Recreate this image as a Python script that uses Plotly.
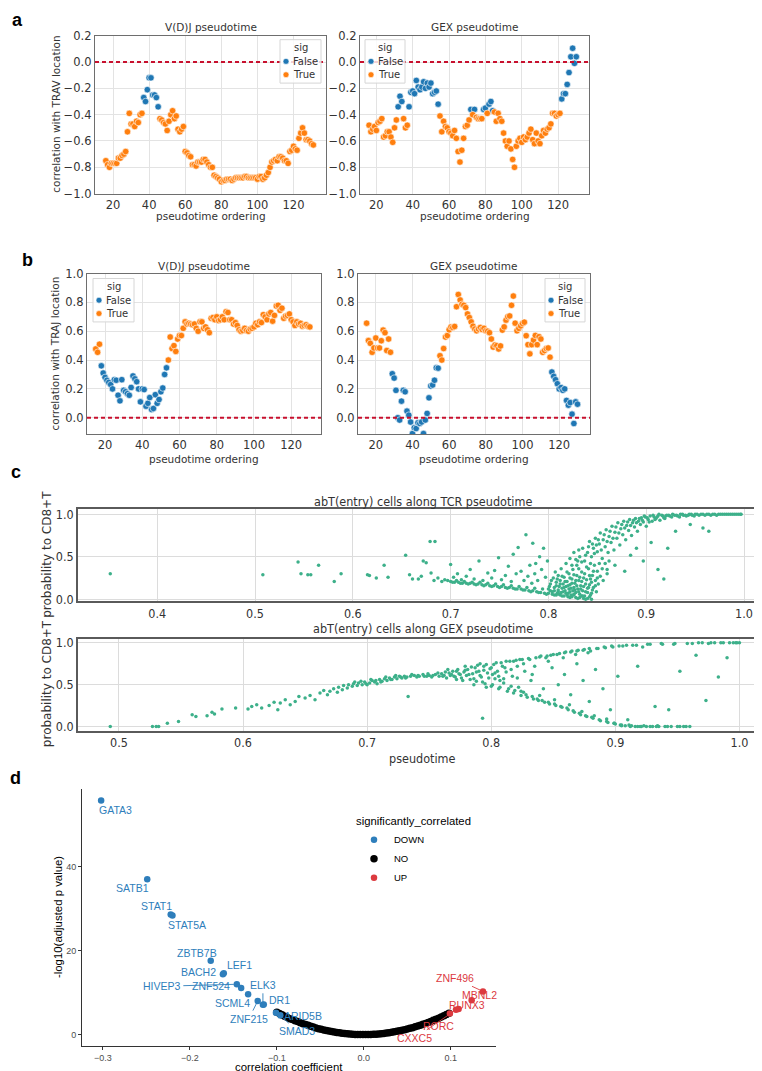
import plotly.graph_objects as go

W, H = 762, 1071

# ---------------- panel a : correlation with TRAV location ----------------
a_vdj_order = list(range(16, 132))
a_vdj_corr = [-0.75, -0.78, -0.80, -0.77, -0.77, -0.77, -0.77, -0.73, -0.73, -0.71,
              -0.70, -0.68, -0.53, -0.39, -0.47, -0.47, -0.49, -0.45, -0.46, -0.40,
              -0.39, -0.27, -0.30, -0.21, -0.12, -0.12, -0.25, -0.25, -0.27, -0.34,
              -0.43, -0.44, -0.46, -0.47, -0.52, -0.45, -0.40, -0.37, -0.43, -0.41,
              -0.51, -0.53, -0.51, -0.49, -0.68, -0.69, -0.71, -0.72, -0.78, -0.78,
              -0.79, -0.76, -0.76, -0.76, -0.74, -0.74, -0.76, -0.78, -0.80, -0.80,
              -0.86, -0.87, -0.88, -0.89, -0.91, -0.90, -0.90, -0.89, -0.89, -0.89,
              -0.90, -0.89, -0.88, -0.88, -0.88, -0.88, -0.88, -0.87, -0.87, -0.88,
              -0.88, -0.88, -0.88, -0.88, -0.89, -0.87, -0.87, -0.89, -0.88, -0.86,
              -0.84, -0.80, -0.76, -0.75, -0.74, -0.75, -0.72, -0.72, -0.73, -0.75,
              -0.75, -0.77, -0.68, -0.67, -0.64, -0.66, -0.67, -0.58, -0.54, -0.50,
              -0.54, -0.59, -0.59, -0.60, -0.62, -0.63]
a_vdj_nonsig = [37, 38, 39, 40, 41, 42, 43, 44, 45]

a_gex_order = list(range(16, 131))
a_gex_corr = [-0.48, -0.53, -0.51, -0.49, -0.52, -0.46, -0.45, -0.43, -0.57, -0.56,
              -0.53, -0.53, -0.57, -0.61, -0.50, -0.44, -0.34, -0.26, -0.30, -0.43,
              -0.50, -0.48, -0.34, -0.23, -0.22, -0.24, -0.14, -0.19, -0.21, -0.19,
              -0.15, -0.20, -0.16, -0.19, -0.16, -0.24, -0.23, -0.22, -0.32, -0.41,
              -0.53, -0.45, -0.49, -0.50, -0.53, -0.54, -0.56, -0.52, -0.58, -0.68,
              -0.76, -0.67, -0.58, -0.49, -0.48, -0.44, -0.36, -0.40, -0.36, -0.42,
              -0.43, -0.43, -0.43, -0.36, -0.35, -0.39, -0.32, -0.30, -0.37, -0.38,
              -0.45, -0.39, -0.43, -0.45, -0.54, -0.60, -0.64, -0.60, -0.66, -0.74,
              -0.80, -0.64, -0.60, -0.58, -0.61, -0.57, -0.59, -0.57, -0.54, -0.51,
              -0.59, -0.62, -0.54, -0.60, -0.62, -0.56, -0.52, -0.54, -0.51, -0.50,
              -0.47, -0.39, -0.39, -0.41, -0.40, -0.39, -0.28, -0.24, -0.24, -0.17,
              -0.08, 0.04, 0.105, -0.01, 0.04]
a_gex_nonsig = [32, 33, 34, 38, 39, 40, 41, 42, 43, 44, 45, 46, 47, 48, 49, 50, 51, 52, 53, 54,
                72, 74, 79, 80, 82, 83, 84, 122, 123, 124, 125, 126, 127, 128, 129, 130]

# ---------------- panel b : correlation with TRAJ location ----------------
b_vdj_order = list(range(15, 131))
b_vdj_corr = [0.477, 0.454, 0.51, 0.36, 0.31, 0.28, 0.26, 0.245, 0.23, 0.20,
              0.264, 0.26, 0.156, 0.117, 0.264, 0.19, 0.18, 0.167, 0.156, 0.21,
              0.29, 0.27, 0.25, 0.20, 0.11, 0.20, 0.195, 0.08, 0.10, 0.14,
              0.057, 0.064, 0.16, 0.10, 0.126, 0.18, 0.206, 0.30, 0.346, 0.40,
              0.56, 0.48, 0.50, 0.46, 0.546, 0.57, 0.57, 0.62, 0.665, 0.65,
              0.655, 0.65, 0.645, 0.65, 0.62, 0.60, 0.665, 0.665, 0.62, 0.63,
              0.61, 0.59, 0.69, 0.695, 0.68, 0.70, 0.675, 0.68, 0.70, 0.68,
              0.735, 0.73, 0.68, 0.68, 0.65, 0.66, 0.64, 0.61, 0.60, 0.605,
              0.62, 0.605, 0.60, 0.615, 0.62, 0.63, 0.655, 0.645, 0.665, 0.66,
              0.715, 0.70, 0.68, 0.72, 0.73, 0.67, 0.71, 0.775, 0.78, 0.745,
              0.76, 0.69, 0.705, 0.71, 0.72, 0.68, 0.665, 0.64, 0.665, 0.65,
              0.655, 0.635, 0.64, 0.645, 0.635, 0.63]
b_vdj_nonsig = list(range(18, 54))

b_gex_order = list(range(15, 131))
b_gex_corr = [0.656, 0.535, 0.516, 0.454, 0.484, 0.553, 0.484, 0.484, 0.534, 0.608,
              0.59, 0.466, 0.546, 0.454, 0.305, 0.275, 0.19, 0.0, -0.016, 0.115,
              0.19, 0.18, 0.046, 0.018, -0.03, -0.11, -0.07, -0.075, -0.035, -0.04,
              -0.03, -0.11, -0.016, 0.03, 0.138, 0.22, 0.227, 0.26, 0.346, 0.344,
              0.43, 0.40, 0.48, 0.56, 0.57, 0.61, 0.63, 0.626, 0.633, 0.77,
              0.855, 0.817, 0.787, 0.78, 0.764, 0.72, 0.695, 0.665, 0.635, 0.615,
              0.603, 0.615, 0.626, 0.612, 0.62, 0.603, 0.60, 0.59, 0.546, 0.49,
              0.505, 0.50, 0.477, 0.498, 0.608, 0.63, 0.677, 0.70, 0.706, 0.78,
              0.844, 0.656, 0.603, 0.62, 0.637, 0.654, 0.663, 0.569, 0.507, 0.443,
              0.507, 0.539, 0.571, 0.507, 0.562, 0.546, 0.454, 0.466, 0.48, 0.484,
              0.42, 0.317, 0.287, 0.264, 0.236, 0.20, 0.209, 0.19, 0.20, 0.12,
              0.087, 0.105, 0.025, -0.04, 0.11, 0.094]
b_gex_nonsig = list(range(29, 55)) + list(range(116, 131))

sig_labels = ["False", "True"]

# ---------------- panel c : probability to CD8+T along pseudotime ----------------
tcr_cells = [
    (0.352, 0.30), (0.508, 0.29), (0.544, 0.44), (0.547, 0.30), (0.554, 0.29), (0.557, 0.29),
    (0.565, 0.40), (0.581, 0.21), (0.588, 0.30), (0.615, 0.29), (0.617, 0.28), (0.624, 0.25),
    (0.632, 0.40), (0.636, 0.26), (0.654, 0.52), (0.658, 0.29), (0.661, 0.24), (0.667, 0.24),
    (0.670, 0.27), (0.672, 0.45), (0.675, 0.43), (0.679, 0.68), (0.684, 0.68), (0.680, 0.31),
    (0.683, 0.22), (0.687, 0.25), (0.691, 0.21), (0.694, 0.23), (0.697, 0.22), (0.700, 0.41),
    (0.703, 0.26), (0.707, 0.30), (0.711, 0.23), (0.716, 0.27), (0.720, 0.35), (0.724, 0.24),
    (0.729, 0.45), (0.733, 0.22), (0.738, 0.31), (0.742, 0.25), (0.745, 0.34), (0.749, 0.49),
    (0.752, 0.23), (0.756, 0.28), (0.759, 0.39), (0.762, 0.21), (0.764, 0.53), (0.767, 0.30),
    (0.769, 0.61), (0.772, 0.33), (0.775, 0.22), (0.777, 0.76), (0.779, 0.27), (0.781, 0.40),
    (0.783, 0.19), (0.784, 0.66), (0.786, 0.30), (0.787, 0.42), (0.789, 0.22), (0.791, 0.50),
    (0.793, 0.35), (0.795, 0.60), (0.797, 0.26), (0.799, 0.45),
    (0.700, 0.21), (0.704, 0.20), (0.708, 0.20), (0.712, 0.19), (0.716, 0.19), (0.720, 0.19),
    (0.724, 0.18), (0.728, 0.18), (0.732, 0.17), (0.736, 0.17), (0.740, 0.16), (0.744, 0.16),
    (0.748, 0.15), (0.752, 0.15), (0.756, 0.14), (0.760, 0.14), (0.764, 0.13), (0.768, 0.12),
    (0.772, 0.12), (0.776, 0.11), (0.780, 0.10), (0.784, 0.10), (0.788, 0.09), (0.792, 0.08),
    (0.796, 0.07), (0.800, 0.07), (0.804, 0.06), (0.808, 0.05), (0.812, 0.05), (0.816, 0.04),
    (0.820, 0.03), (0.824, 0.03), (0.828, 0.02), (0.832, 0.02), (0.836, 0.01), (0.840, 0.01),
    (0.844, 0.00),
    (0.706, 0.22), (0.714, 0.21), (0.722, 0.20), (0.730, 0.20), (0.738, 0.19), (0.746, 0.18),
    (0.754, 0.17), (0.762, 0.16), (0.770, 0.15), (0.778, 0.14), (0.786, 0.13), (0.794, 0.12),
    (0.802, 0.10), (0.810, 0.09), (0.818, 0.07), (0.826, 0.06), (0.834, 0.04), (0.842, 0.03),
    (0.702, 0.20), (0.710, 0.19), (0.718, 0.18), (0.726, 0.17), (0.734, 0.16), (0.742, 0.15),
    (0.750, 0.14), (0.758, 0.13), (0.766, 0.12), (0.774, 0.11), (0.782, 0.09), (0.790, 0.08),
    (0.798, 0.06), (0.806, 0.05), (0.814, 0.04), (0.822, 0.02), (0.830, 0.01), (0.838, 0.00),
    (0.800, 0.12), (0.802, 0.18), (0.804, 0.09), (0.805, 0.25), (0.806, 0.14), (0.807, 0.32),
    (0.808, 0.20), (0.809, 0.07), (0.810, 0.11), (0.810, 0.28), (0.811, 0.15), (0.812, 0.22),
    (0.813, 0.08), (0.813, 0.36), (0.814, 0.13), (0.815, 0.18), (0.816, 0.26), (0.817, 0.10),
    (0.818, 0.15), (0.818, 0.42), (0.819, 0.21), (0.820, 0.07), (0.821, 0.12), (0.821, 0.30),
    (0.822, 0.17), (0.823, 0.05), (0.824, 0.24), (0.825, 0.10), (0.825, 0.35), (0.826, 0.14),
    (0.827, 0.19), (0.828, 0.08), (0.829, 0.28), (0.830, 0.12), (0.830, 0.45), (0.831, 0.22),
    (0.832, 0.06), (0.833, 0.16), (0.834, 0.32), (0.835, 0.10), (0.836, 0.25), (0.837, 0.04),
    (0.838, 0.18), (0.839, 0.38), (0.840, 0.08), (0.841, 0.14), (0.842, 0.28), (0.843, 0.05),
    (0.844, 0.20), (0.845, 0.11), (0.846, 0.33), (0.848, 0.16), (0.850, 0.25), (0.852, 0.42),
    (0.801, 0.15), (0.803, 0.22), (0.806, 0.10), (0.808, 0.16), (0.809, 0.24), (0.811, 0.06),
    (0.812, 0.18), (0.814, 0.27), (0.815, 0.09), (0.816, 0.14), (0.817, 0.21), (0.819, 0.05),
    (0.819, 0.32), (0.820, 0.16), (0.822, 0.09), (0.822, 0.25), (0.823, 0.13), (0.824, 0.19),
    (0.826, 0.05), (0.826, 0.29), (0.827, 0.11), (0.828, 0.22), (0.829, 0.16), (0.831, 0.09),
    (0.831, 0.36), (0.832, 0.26), (0.833, 0.12), (0.834, 0.21), (0.835, 0.04), (0.836, 0.15),
    (0.837, 0.30), (0.838, 0.09), (0.839, 0.23), (0.840, 0.13), (0.841, 0.36), (0.842, 0.17),
    (0.843, 0.24), (0.844, 0.07), (0.845, 0.28), (0.846, 0.14), (0.847, 0.40), (0.848, 0.22),
    (0.849, 0.09), (0.850, 0.33), (0.851, 0.18), (0.853, 0.27), (0.855, 0.36), (0.856, 0.22),
    (0.858, 0.42), (0.860, 0.35), (0.862, 0.45),
    (0.822, 0.48), (0.826, 0.55), (0.829, 0.40), (0.832, 0.50), (0.835, 0.60), (0.837, 0.45),
    (0.840, 0.55), (0.842, 0.68), (0.844, 0.50), (0.846, 0.60), (0.848, 0.72), (0.850, 0.56),
    (0.852, 0.65), (0.853, 0.78), (0.855, 0.48), (0.856, 0.70), (0.858, 0.62), (0.859, 0.82),
    (0.861, 0.55), (0.862, 0.74), (0.864, 0.67), (0.865, 0.86), (0.867, 0.58), (0.868, 0.79),
    (0.870, 0.72), (0.871, 0.90), (0.873, 0.64), (0.874, 0.83), (0.876, 0.76), (0.877, 0.92),
    (0.879, 0.70), (0.880, 0.87), (0.882, 0.81), (0.883, 0.94), (0.885, 0.75), (0.886, 0.90),
    (0.888, 0.85), (0.889, 0.95), (0.891, 0.80), (0.892, 0.92), (0.894, 0.88), (0.895, 0.96),
    (0.897, 0.91), (0.899, 0.97), (0.900, 0.86), (0.902, 0.94), (0.904, 0.98), (0.906, 0.92),
    (0.908, 0.97), (0.910, 0.95), (0.912, 0.98), (0.914, 0.93), (0.916, 0.99), (0.918, 0.96),
    (0.920, 0.98), (0.923, 0.99), (0.926, 0.97), (0.929, 0.99), (0.932, 0.98), (0.935, 1.00),
    (0.938, 0.99), (0.941, 0.98), (0.944, 1.00), (0.947, 0.99), (0.950, 1.00), (0.954, 0.99),
    (0.958, 1.00), (0.962, 1.00), (0.966, 0.99), (0.970, 1.00), (0.974, 1.00), (0.978, 1.00),
    (0.982, 1.00), (0.986, 1.00), (0.990, 1.00), (0.994, 1.00), (0.997, 1.00),
    (0.824, 0.40), (0.828, 0.47), (0.831, 0.58), (0.834, 0.44), (0.838, 0.52), (0.841, 0.62),
    (0.843, 0.42), (0.845, 0.65), (0.847, 0.54), (0.849, 0.64), (0.851, 0.70), (0.854, 0.58),
    (0.857, 0.76), (0.860, 0.68), (0.863, 0.80), (0.866, 0.72), (0.869, 0.85), (0.872, 0.78),
    (0.875, 0.88), (0.878, 0.84), (0.881, 0.91), (0.884, 0.87), (0.887, 0.93), (0.890, 0.90),
    (0.893, 0.95), (0.896, 0.93), (0.898, 0.98), (0.901, 0.96), (0.903, 0.91), (0.907, 0.99),
    (0.909, 0.94), (0.911, 0.97), (0.913, 1.00), (0.917, 0.98), (0.919, 0.95), (0.921, 0.99),
    (0.924, 0.98), (0.927, 1.00), (0.931, 0.99), (0.934, 0.97), (0.937, 1.00), (0.940, 0.99),
    (0.943, 0.99), (0.946, 1.00), (0.949, 0.98), (0.952, 1.00), (0.956, 1.00), (0.960, 0.99),
    (0.964, 1.00), (0.968, 1.00), (0.972, 0.99), (0.976, 1.00), (0.980, 1.00), (0.984, 1.00),
    (0.988, 1.00), (0.992, 1.00), (0.996, 1.00),
    (0.860, 0.30), (0.868, 0.40), (0.878, 0.33), (0.884, 0.52), (0.890, 0.60), (0.897, 0.45),
    (0.905, 0.67), (0.912, 0.35), (0.918, 0.24), (0.922, 0.60), (0.930, 0.80), (0.945, 0.88),
    (0.958, 0.84), (0.964, 0.80),
]
tcr_pseudotime = [c[0] for c in tcr_cells]
tcr_prob_cd8 = [c[1] for c in tcr_cells]

gex_cells = [
    (0.493, 0.00), (0.527, 0.00), (0.530, 0.00), (0.532, 0.00), (0.539, 0.04), (0.548, 0.06),
    (0.559, 0.14), (0.562, 0.12), (0.571, 0.13), (0.575, 0.17), (0.577, 0.15), (0.583, 0.21),
    (0.594, 0.22), (0.604, 0.21), (0.607, 0.24), (0.611, 0.26), (0.615, 0.22), (0.621, 0.25),
    (0.625, 0.29), (0.628, 0.20), (0.630, 0.28), (0.634, 0.32), (0.638, 0.26), (0.642, 0.30),
    (0.645, 0.36), (0.650, 0.34), (0.654, 0.37), (0.658, 0.32), (0.662, 0.40), (0.665, 0.43),
    (0.668, 0.38), (0.670, 0.42), (0.673, 0.45), (0.676, 0.41), (0.677, 0.47), (0.680, 0.44),
    (0.681, 0.49), (0.684, 0.46), (0.685, 0.50), (0.688, 0.48), (0.689, 0.51), (0.692, 0.49),
    (0.693, 0.52), (0.696, 0.50), (0.698, 0.53), (0.700, 0.50), (0.702, 0.52), (0.704, 0.55),
    (0.706, 0.53), (0.708, 0.51), (0.710, 0.56), (0.712, 0.54), (0.714, 0.57), (0.716, 0.55),
    (0.718, 0.58), (0.720, 0.56), (0.722, 0.59), (0.724, 0.57), (0.726, 0.60), (0.728, 0.58),
    (0.730, 0.60), (0.732, 0.59), (0.733, 0.36), (0.735, 0.60), (0.738, 0.61), (0.740, 0.59),
    (0.742, 0.60), (0.745, 0.62), (0.748, 0.60), (0.750, 0.61), (0.752, 0.59), (0.755, 0.62),
    (0.758, 0.60), (0.760, 0.63), (0.762, 0.61), (0.764, 0.58), (0.766, 0.64), (0.768, 0.62),
    (0.770, 0.60), (0.772, 0.66), (0.774, 0.63), (0.776, 0.58), (0.778, 0.65), (0.780, 0.61),
    (0.781, 0.68), (0.783, 0.56), (0.785, 0.63), (0.787, 0.70), (0.788, 0.54), (0.790, 0.66),
    (0.792, 0.59), (0.793, 0.10), (0.794, 0.72), (0.795, 0.51), (0.797, 0.64), (0.799, 0.69),
    (0.800, 0.48), (0.802, 0.74), (0.803, 0.57), (0.805, 0.66), (0.806, 0.45), (0.808, 0.76),
    (0.810, 0.52), (0.811, 0.70), (0.813, 0.42), (0.815, 0.78), (0.817, 0.60), (0.818, 0.40),
    (0.820, 0.79), (0.822, 0.47), (0.824, 0.37), (0.825, 0.80), (0.827, 0.66), (0.829, 0.35),
    (0.830, 0.81), (0.832, 0.55), (0.834, 0.33), (0.836, 0.82), (0.838, 0.31), (0.840, 0.84),
    (0.842, 0.45), (0.843, 0.29), (0.845, 0.84), (0.847, 0.27), (0.849, 0.70), (0.850, 0.86),
    (0.852, 0.25), (0.854, 0.50), (0.855, 0.87), (0.857, 0.23), (0.859, 0.62), (0.860, 0.89),
    (0.862, 0.20), (0.864, 0.38), (0.865, 0.90), (0.867, 0.17), (0.869, 0.75), (0.870, 0.91),
    (0.872, 0.14), (0.874, 0.55), (0.875, 0.92), (0.877, 0.12), (0.879, 0.30), (0.880, 0.90),
    (0.882, 0.10), (0.884, 0.68), (0.886, 0.93), (0.888, 0.07), (0.890, 0.45), (0.892, 0.94),
    (0.894, 0.05), (0.896, 0.20), (0.898, 0.95), (0.900, 0.03), (0.902, 0.60), (0.904, 0.02),
    (0.906, 0.96), (0.908, 0.01), (0.910, 0.08), (0.912, 0.00), (0.914, 0.97), (0.916, 0.00),
    (0.918, 0.72), (0.920, 0.00), (0.922, 0.95), (0.925, 0.00), (0.928, 0.98), (0.930, 0.00),
    (0.932, 0.24), (0.935, 0.00), (0.938, 0.98), (0.940, 0.00), (0.943, 0.20), (0.945, 0.00),
    (0.948, 0.99), (0.950, 0.00), (0.952, 0.66), (0.955, 0.00), (0.958, 0.99), (0.960, 0.00),
    (0.965, 0.85), (0.970, 1.00), (0.973, 0.31), (0.975, 0.99), (0.980, 1.00), (0.983, 0.59),
    (0.985, 1.00), (0.990, 0.82), (0.992, 1.00), (0.995, 1.00), (0.998, 1.00), (1.000, 1.00),
    (0.765, 0.68), (0.772, 0.56), (0.779, 0.72), (0.786, 0.50), (0.791, 0.75), (0.796, 0.47),
    (0.801, 0.62), (0.807, 0.55), (0.812, 0.65), (0.816, 0.48), (0.821, 0.72), (0.826, 0.41),
    (0.833, 0.62), (0.839, 0.37), (0.846, 0.78), (0.851, 0.32), (0.858, 0.82), (0.863, 0.26),
    (0.868, 0.86), (0.873, 0.18), (0.878, 0.88), (0.883, 0.13), (0.893, 0.09), (0.899, 0.04),
    (0.905, 0.01), (0.911, 0.02), (0.918, 0.00), (0.923, 0.01), (0.928, 0.00), (0.934, 0.01),
    (0.690, 0.53), (0.695, 0.54), (0.699, 0.51), (0.703, 0.56), (0.707, 0.55), (0.711, 0.53),
    (0.715, 0.59), (0.719, 0.56), (0.723, 0.61), (0.727, 0.59), (0.731, 0.58), (0.736, 0.62),
    (0.741, 0.61), (0.746, 0.60), (0.749, 0.63), (0.753, 0.61), (0.757, 0.64), (0.761, 0.60),
    (0.763, 0.65), (0.767, 0.61), (0.769, 0.66), (0.771, 0.59), (0.773, 0.68), (0.775, 0.62),
    (0.777, 0.55), (0.779, 0.67), (0.782, 0.62), (0.784, 0.71), (0.786, 0.57), (0.788, 0.65),
    (0.789, 0.73), (0.791, 0.61), (0.793, 0.53), (0.794, 0.67), (0.796, 0.74), (0.798, 0.58),
    (0.800, 0.70), (0.801, 0.50), (0.803, 0.64), (0.804, 0.76), (0.806, 0.60), (0.807, 0.47),
    (0.809, 0.72), (0.810, 0.57), (0.812, 0.78), (0.814, 0.45), (0.816, 0.68), (0.818, 0.78),
    (0.819, 0.43), (0.821, 0.58), (0.823, 0.80), (0.824, 0.42), (0.826, 0.75), (0.828, 0.38),
    (0.831, 0.80), (0.833, 0.36), (0.835, 0.72), (0.837, 0.33), (0.839, 0.83), (0.841, 0.31),
    (0.844, 0.82), (0.846, 0.29), (0.848, 0.85), (0.851, 0.27), (0.853, 0.86), (0.856, 0.24),
    (0.859, 0.88), (0.861, 0.22), (0.864, 0.89), (0.866, 0.19), (0.869, 0.90), (0.871, 0.16),
    (0.874, 0.91), (0.876, 0.13), (0.879, 0.93), (0.881, 0.11), (0.885, 0.93), (0.887, 0.08),
    (0.891, 0.95), (0.893, 0.06), (0.897, 0.96), (0.899, 0.04), (0.903, 0.96), (0.905, 0.02),
    (0.909, 0.97), (0.913, 0.01), (0.917, 0.97), (0.921, 0.00), (0.926, 0.98), (0.933, 0.00),
    (0.937, 0.99), (0.942, 0.00), (0.947, 0.98), (0.952, 0.00), (0.957, 0.00), (0.962, 0.99),
    (0.967, 1.00), (0.977, 1.00), (0.987, 1.00), (0.997, 1.00),
]
gex_pseudotime = [c[0] for c in gex_cells]
gex_prob_cd8 = [c[1] for c in gex_cells]

# ---------------- panel d : TF correlation volcano ----------------
down_genes = ["GATA3", "SATB1", "STAT1", "STAT5A", "ZBTB7B", "LEF1", "BACH2", "HIVEP3",
              "ZNF524", "ELK3", "SCML4", "DR1", "ZNF215", "ARID5B", "SMAD3"]
down_corr = [-0.302, -0.249, -0.222, -0.220, -0.176, -0.161, -0.162, -0.146,
             -0.141, -0.116, -0.133, -0.115, -0.122, -0.101, -0.096]
down_logp = [55.8, 37.0, 28.6, 28.4, 17.6, 14.6, 14.4, 12.0,
             11.1, 7.1, 9.6, 7.2, 8.0, 5.2, 4.6]

up_genes = ["ZNF496", "MBNL2", "RUNX3", "CXXC5", "RORC"]
up_corr = [0.137, 0.124, 0.109, 0.106, 0.099]
up_logp = [10.3, 8.2, 6.1, 5.9, 5.0]

no_corr = [-0.100, -0.097, -0.094, -0.091, -0.088, -0.085, -0.082, -0.079, -0.076, -0.073,
           -0.070, -0.067, -0.064, -0.061, -0.058, -0.055, -0.052, -0.049, -0.046, -0.043,
           -0.040, -0.037, -0.034, -0.031, -0.028, -0.025, -0.022, -0.019, -0.016, -0.013,
           -0.010, -0.007, -0.004, -0.001, 0.002, 0.005, 0.008, 0.011, 0.014, 0.017,
           0.020, 0.023, 0.026, 0.029, 0.032, 0.035, 0.038, 0.041, 0.044, 0.047,
           0.050, 0.053, 0.056, 0.059, 0.062, 0.065, 0.068, 0.071, 0.074, 0.077,
           0.080, 0.083, 0.086, 0.089, 0.092, 0.095, 0.098]
no_logp = [5.3, 5.0, 4.7, 4.4, 4.1, 3.8, 3.6, 3.3, 3.1, 2.8,
           2.6, 2.4, 2.2, 2.0, 1.8, 1.6, 1.4, 1.3, 1.1, 1.0,
           0.85, 0.73, 0.61, 0.51, 0.42, 0.33, 0.26, 0.19, 0.14, 0.09,
           0.05, 0.03, 0.01, 0.0, 0.0, 0.01, 0.03, 0.06, 0.10, 0.15,
           0.21, 0.28, 0.36, 0.45, 0.54, 0.65, 0.77, 0.89, 1.03, 1.17,
           1.33, 1.49, 1.66, 1.84, 2.04, 2.24, 2.45, 2.67, 2.90, 3.14,
           3.39, 3.65, 3.92, 4.20, 4.49, 4.78, 5.09]

# label placement (pixels: dx right, dy down); True draws a connector segment
label_place = {
    "GATA3": (14, 9, False), "SATB1": (-15, 9, False), "STAT1": (-14, -9, False),
    "STAT5A": (15, 10, False), "ZBTB7B": (-14, -8, False), "LEF1": (16, -8, False),
    "BACH2": (-24, -2, False), "HIVEP3": (-75, 2, True), "ZNF524": (-30, -2, False),
    "ELK3": (0, -20, True), "SCML4": (-16, 9, False), "DR1": (16, -4, False),
    "ZNF215": (-9, 18, True), "ARID5B": (27, 3, False), "SMAD3": (17, 16, True),
    "ZNF496": (-28, -13, True), "MBNL2": (8, -5, False), "RUNX3": (8, -4, False),
    "CXXC5": (-41, 28, True), "RORC": (-11, 12, False),
}

# ---------------- styling ----------------
BLUE_SB, ORANGE_SB = "#1f77b4", "#ff7f0e"
SIG_COLORS = [BLUE_SB, ORANGE_SB]
GREEN = "#3DB08A"
D_BLUE, D_RED = "#2E7EBB", "#DC3A3F"
SB_FONT = "DejaVu Sans"
C_FONT = "DejaVu Sans Condensed, Liberation Sans Narrow, DejaVu Sans"
D_FONT = "Liberation Sans, Arial"


def px_x(p):
    return p / W


def px_y(p):
    return 1 - p / H


fig = go.Figure()


def add_sig_panel(order, corr, nonsig, xa, ya):
    xf = [o for o, c in zip(order, corr) if o in nonsig]
    yf = [c for o, c in zip(order, corr) if o in nonsig]
    xt = [o for o, c in zip(order, corr) if o not in nonsig]
    yt = [c for o, c in zip(order, corr) if o not in nonsig]
    for name, xs, ys, col in ((sig_labels[0], xf, yf, SIG_COLORS[0]), (sig_labels[1], xt, yt, SIG_COLORS[1])):
        fig.add_trace(go.Scatter(
            x=xs, y=ys, mode="markers", name=name, xaxis=xa, yaxis=ya,
            marker=dict(color=col, size=6.5, line=dict(color="white", width=0.6)),
            showlegend=False))


add_sig_panel(a_vdj_order, a_vdj_corr, a_vdj_nonsig, "x", "y")
add_sig_panel(a_gex_order, a_gex_corr, a_gex_nonsig, "x2", "y2")
add_sig_panel(b_vdj_order, b_vdj_corr, b_vdj_nonsig, "x3", "y3")
add_sig_panel(b_gex_order, b_gex_corr, b_gex_nonsig, "x4", "y4")

fig.add_trace(go.Scatter(x=tcr_pseudotime, y=tcr_prob_cd8, mode="markers", xaxis="x5", yaxis="y5",
                         marker=dict(color=GREEN, size=3.5), showlegend=False))
fig.add_trace(go.Scatter(x=gex_pseudotime, y=gex_prob_cd8, mode="markers", xaxis="x6", yaxis="y6",
                         marker=dict(color=GREEN, size=3.5), showlegend=False))

fig.add_trace(go.Scatter(x=no_corr, y=no_logp, mode="markers", name="NO", xaxis="x7", yaxis="y7",
                         legendrank=2, marker=dict(color="black", size=7.5)))
fig.add_trace(go.Scatter(x=down_corr, y=down_logp, mode="markers", name="DOWN", xaxis="x7", yaxis="y7",
                         legendrank=1, marker=dict(color=D_BLUE, size=6.5)))
fig.add_trace(go.Scatter(x=up_corr, y=up_logp, mode="markers", name="UP", xaxis="x7", yaxis="y7",
                         legendrank=3, marker=dict(color=D_RED, size=6.5)))

# axes
sb_ax = dict(showgrid=True, gridcolor="#e3e3e3", gridwidth=1, showline=True, mirror=True,
             linecolor="#6e6e6e", linewidth=1.3, ticks="", zeroline=False,
             tickfont=dict(family=SB_FONT, size=11.5, color="#333333"))
c_ax = dict(showgrid=True, gridcolor="#dcdcdc", gridwidth=1, showline=True, mirror=True,
            linecolor="#5a5a5a", linewidth=1.5, ticks="", zeroline=False,
            tickfont=dict(family=C_FONT, size=12.5, color="#333333"))
d_ax = dict(showgrid=False, showline=True, mirror=False, linecolor="#333333", linewidth=1,
            ticks="outside", ticklen=3, tickcolor="#333333", zeroline=False,
            tickfont=dict(family=D_FONT, size=9, color="#4d4d4d"))

order_ticks = [20, 40, 60, 80, 100, 120]
layout_axes = dict(
    xaxis=dict(sb_ax, domain=[px_x(87), px_x(318)], range=[10, 138], tickvals=order_ticks, anchor="y"),
    yaxis=dict(sb_ax, domain=[px_y(181), px_y(21)], range=[-1.0, 0.2], tickvals=[-1.0, -0.8, -0.6, -0.4, -0.2, 0.0, 0.2],
               tickformat=".1f", anchor="x"),
    xaxis2=dict(sb_ax, domain=[px_x(352), px_x(581)], range=[11, 137], tickvals=order_ticks, anchor="y2"),
    yaxis2=dict(sb_ax, domain=[px_y(181), px_y(21)], range=[-1.0, 0.2], tickvals=[-1.0, -0.8, -0.6, -0.4, -0.2, 0.0, 0.2],
                tickformat=".1f", anchor="x2"),
    xaxis3=dict(sb_ax, domain=[px_x(79), px_x(313)], range=[10.3, 136], tickvals=order_ticks, anchor="y3"),
    yaxis3=dict(sb_ax, domain=[px_y(425), px_y(262)], range=[-0.116, 1.0], tickvals=[0.0, 0.2, 0.4, 0.6, 0.8, 1.0],
                tickformat=".1f", anchor="x3"),
    xaxis4=dict(sb_ax, domain=[px_x(350), px_x(582)], range=[10.3, 136.8], tickvals=order_ticks, anchor="y4"),
    yaxis4=dict(sb_ax, domain=[px_y(425), px_y(262)], range=[-0.116, 1.0], tickvals=[0.0, 0.2, 0.4, 0.6, 0.8, 1.0],
                tickformat=".1f", anchor="x4"),
    xaxis5=dict(c_ax, domain=[px_x(70), px_x(760)], range=[0.319, 1.0245], tickvals=[0.4, 0.5, 0.6, 0.7, 0.8, 0.9, 1.0],
                tickformat=".1f", anchor="y5"),
    yaxis5=dict(c_ax, domain=[px_y(594), px_y(501)], range=[-0.023, 1.058], tickvals=[0.0, 0.5, 1.0],
                tickformat=".1f", anchor="x5"),
    xaxis6=dict(c_ax, domain=[px_x(70), px_x(760)], range=[0.467, 1.023], tickvals=[0.5, 0.6, 0.7, 0.8, 0.9, 1.0],
                tickformat=".1f", anchor="y6"),
    yaxis6=dict(c_ax, domain=[px_y(725), px_y(632)], range=[-0.047, 1.047], tickvals=[0.0, 0.5, 1.0],
                tickformat=".1f", anchor="x6"),
    xaxis7=dict(d_ax, domain=[px_x(74), px_x(488)], range=[-0.324, 0.152], tickvals=[-0.3, -0.2, -0.1, 0.0, 0.1],
                tickformat=".1f", anchor="y7"),
    yaxis7=dict(d_ax, domain=[px_y(1045), px_y(784)], range=[-2.8, 58.6], tickvals=[0, 20, 40], anchor="x7"),
)

annotations = []
shapes = []


def text_ann(txt, x, y, size, family, color="#333333", angle=0, bold=False, xanchor="center"):
    annotations.append(dict(text=("<b>%s</b>" % txt) if bold else txt, x=px_x(x), y=px_y(y),
                            xref="paper", yref="paper", showarrow=False, xanchor=xanchor, yanchor="middle",
                            textangle=angle, font=dict(family=family, size=size, color=color)))


# red dashed reference line at 0 in panels a/b
for xa, ya in (("x", "y"), ("x2", "y2"), ("x3", "y3"), ("x4", "y4")):
    shapes.append(dict(type="line", xref=xa + " domain", yref=ya, x0=0, x1=1, y0=0, y1=0,
                       line=dict(color="#C8102E", width=2, dash="4px,3px"), layer="above"))

# seaborn-style "sig" legends (box left, top, width in px)
sb_legend_boxes = [(272, 25, 41), (357, 25, 40), (85, 267, 41), (537, 267, 40)]
for bx, by, bw in sb_legend_boxes:
    shapes.append(dict(type="rect", xref="paper", yref="paper", x0=px_x(bx), x1=px_x(bx + bw),
                       y0=px_y(by + 44), y1=px_y(by), fillcolor="rgba(255,255,255,0.8)",
                       line=dict(color="#d6d6d6", width=1), layer="above"))
    text_ann("sig", bx + bw / 2, by + 8, 10, SB_FONT)
    for k, (lab, col) in enumerate(zip(sig_labels, SIG_COLORS)):
        cy = by + 22 + 13.5 * k
        cx = bx + 6
        shapes.append(dict(type="circle", xref="paper", yref="paper", x0=px_x(cx - 3), x1=px_x(cx + 3),
                           y0=px_y(cy + 3), y1=px_y(cy - 3), fillcolor=col,
                           line=dict(color="white", width=0.6), layer="above"))
        text_ann(lab, cx + 5, cy, 10, SB_FONT, xanchor="left")

# panel letters
text_ann("a", 2, 5, 18, "Liberation Sans", "black", bold=True, xanchor="left")
text_ann("b", 12, 248, 18, "Liberation Sans", "black", bold=True, xanchor="left")
text_ann("c", 1, 463, 18, "Liberation Sans", "black", bold=True, xanchor="left")
text_ann("d", 0, 773, 18, "Liberation Sans", "black", bold=True, xanchor="left")

# panel a/b titles
text_ann("V(D)J pseudotime", 202.5, 12, 10.5, SB_FONT)
text_ann("GEX pseudotime", 466.5, 12, 10.5, SB_FONT)
text_ann("pseudotime ordering", 202.5, 204, 10.5, SB_FONT)
text_ann("pseudotime ordering", 466.5, 204, 10.5, SB_FONT)
text_ann("correlation with TRAV location", 48, 101, 10.5, SB_FONT, angle=-90)
text_ann("V(D)J pseudotime", 196, 254, 10.5, SB_FONT)
text_ann("GEX pseudotime", 466, 254, 10.5, SB_FONT)
text_ann("pseudotime ordering", 196, 450, 10.5, SB_FONT)
text_ann("pseudotime ordering", 466, 450, 10.5, SB_FONT)
text_ann("correlation with TRAJ location", 47, 343, 10.5, SB_FONT, angle=-90)

# panel c
text_ann("abT(entry) cells along TCR pseudotime", 415, 493, 12.5, C_FONT)
text_ann("abT(entry) cells along GEX pseudotime", 415, 622, 12.5, C_FONT)
text_ann("pseudotime", 415, 753, 12.5, C_FONT)
text_ann("probability to CD8+T", 39, 547, 12, SB_FONT, angle=-90)
text_ann("probability to CD8+T", 39, 678, 12, SB_FONT, angle=-90)

# panel d
text_ann("correlation coefficient", 281, 1066, 11.4, D_FONT, "black")
text_ann("-log10(adjusted p value)", 50, 914, 11.4, D_FONT, "black", angle=-90)

for genes, xs, ys, col in ((down_genes, down_corr, down_logp, D_BLUE), (up_genes, up_corr, up_logp, D_RED)):
    for g, xv, yv in zip(genes, xs, ys):
        dx, dy, arrow = label_place[g]
        base = dict(text=g, x=xv, y=yv, xref="x7", yref="y7",
                    font=dict(family=D_FONT, size=10.5, color=col))
        if arrow:
            base.update(showarrow=True, ax=dx, ay=dy, arrowhead=0, arrowwidth=0.9, arrowcolor=col,
                        standoff=3, startstandoff=1)
        else:
            base.update(showarrow=False, xshift=dx, yshift=-dy)
        annotations.append(base)

fig.update_layout(
    width=W, height=H, margin=dict(l=0, r=0, t=0, b=0),
    paper_bgcolor="white", plot_bgcolor="white",
    annotations=annotations, shapes=shapes,
    showlegend=True,
    legend=dict(x=px_x(346), xanchor="left", y=px_y(806), yanchor="top", bgcolor="rgba(0,0,0,0)",
                font=dict(family=D_FONT, size=9.5, color="black"),
                title=dict(text="significantly_correlated", side="top",
                           font=dict(family=D_FONT, size=11.3, color="black")),
                itemwidth=30, tracegroupgap=0),
    **layout_axes,
)

fig.write_html("out.html")
